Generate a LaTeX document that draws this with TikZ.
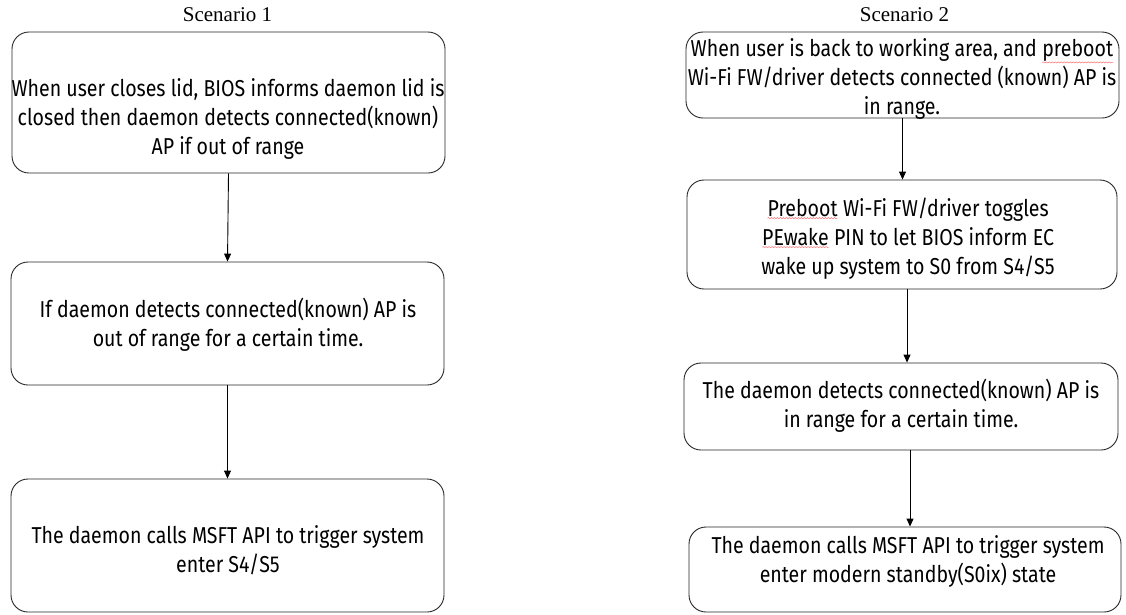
\documentclass[tikz,border=0pt]{standalone}
\usepackage{fontspec}
\setmainfont{Liberation Serif}
\newfontfamily\boxfont[FakeStretch=0.85]{Fira Sans}
\usetikzlibrary{arrows.meta,decorations.pathmorphing}

% red wavy spell-check underline under a word
\newcommand\squig[1]{\tikz[baseline=(w.base)]{%
  \node[inner sep=0pt, outer sep=0pt, anchor=base] (w) {#1};
  \draw[red!55, line width=0.5pt, decorate,
    decoration={snake, amplitude=0.6pt, segment length=3pt}]
    ([yshift=-1pt]w.south west) -- ([yshift=-1pt]w.south east);}}

\tikzset{
  stepbox/.style={draw=black!85, line width=0.9pt, rounded corners=17pt,
    inner sep=0pt, anchor=center},
  steptext/.style={align=center, inner sep=0pt,
    font=\boxfont\fontsize{23}{29}\selectfont},
  titletext/.style={inner sep=0pt, font=\fontsize{21}{24}\selectfont},
  flow/.style={draw=black, line width=0.9pt,
    -{Triangle[length=8pt,width=7pt]}}
}

\begin{document}
\begin{tikzpicture}[x=1pt,y=-1pt]
\useasboundingbox (0,0) rectangle (1126,614);

% column titles
\node[titletext] (t1) at (227.5,15) {Scenario 1};
\node[titletext] (t2) at (904.5,15) {Scenario 2};

% Scenario 1 boxes
\node[stepbox, minimum width=433pt, minimum height=141pt] (l1) at (228.5,102.5) {};
\node[stepbox, minimum width=433pt, minimum height=123pt] (l2) at (227.5,323.5) {};
\node[stepbox, minimum width=433pt, minimum height=133pt] (l3) at (227.5,545.5) {};

\node[steptext] (l1t) at (228,119) {When user closes lid, BIOS informs daemon lid is\\
  closed then daemon detects connected(known)\\ AP if out of range};
\node[steptext] (l2t) at (228,325) {If daemon detects connected(known) AP is\\
  out of range for a certain time.};
\node[steptext] (l3t) at (228,550) {The daemon calls MSFT API to trigger system\\ enter S4/S5};

% Scenario 2 boxes
\node[stepbox, minimum width=433pt, minimum height=86pt] (r1) at (902.5,75) {};
\node[stepbox, minimum width=430pt, minimum height=109pt] (r2) at (902,234.5) {};
\node[stepbox, minimum width=434pt, minimum height=87pt] (r3) at (901,406.5) {};
\node[stepbox, minimum width=432pt, minimum height=85pt] (r4) at (905,569.5) {};

\node[steptext] (r1t) at (902,79) {When user is back to working area, and \squig{preboot}\\
  Wi-Fi FW/driver detects connected (known) AP is\\ in range.};
\node[steptext] (r2t) at (908,239) {\squig{Preboot} Wi-Fi FW/driver toggles\\
  \squig{PEwake} PIN to let BIOS inform EC\\ wake up system to S0 from S4/S5};
\node[steptext] (r3t) at (901,406) {The daemon detects connected(known) AP is\\
  in range for a certain time.};
\node[steptext] (r4t) at (908,561) {The daemon calls MSFT API to trigger system\\
  enter modern standby(S0ix) state};

% connectors
\draw[flow] (l1.south) -- (l2.north);
\draw[flow] (l2.south) -- (l3.north);
\draw[flow] (r1.south) -- (r1.south |- r2.north);
\draw[flow] ([xshift=5pt]r2.south) -- ([xshift=5pt]r2.south |- r3.north);
\draw[flow] ([xshift=9pt]r3.south) -- ([xshift=9pt]r3.south |- r4.north);
\end{tikzpicture}
\end{document}
